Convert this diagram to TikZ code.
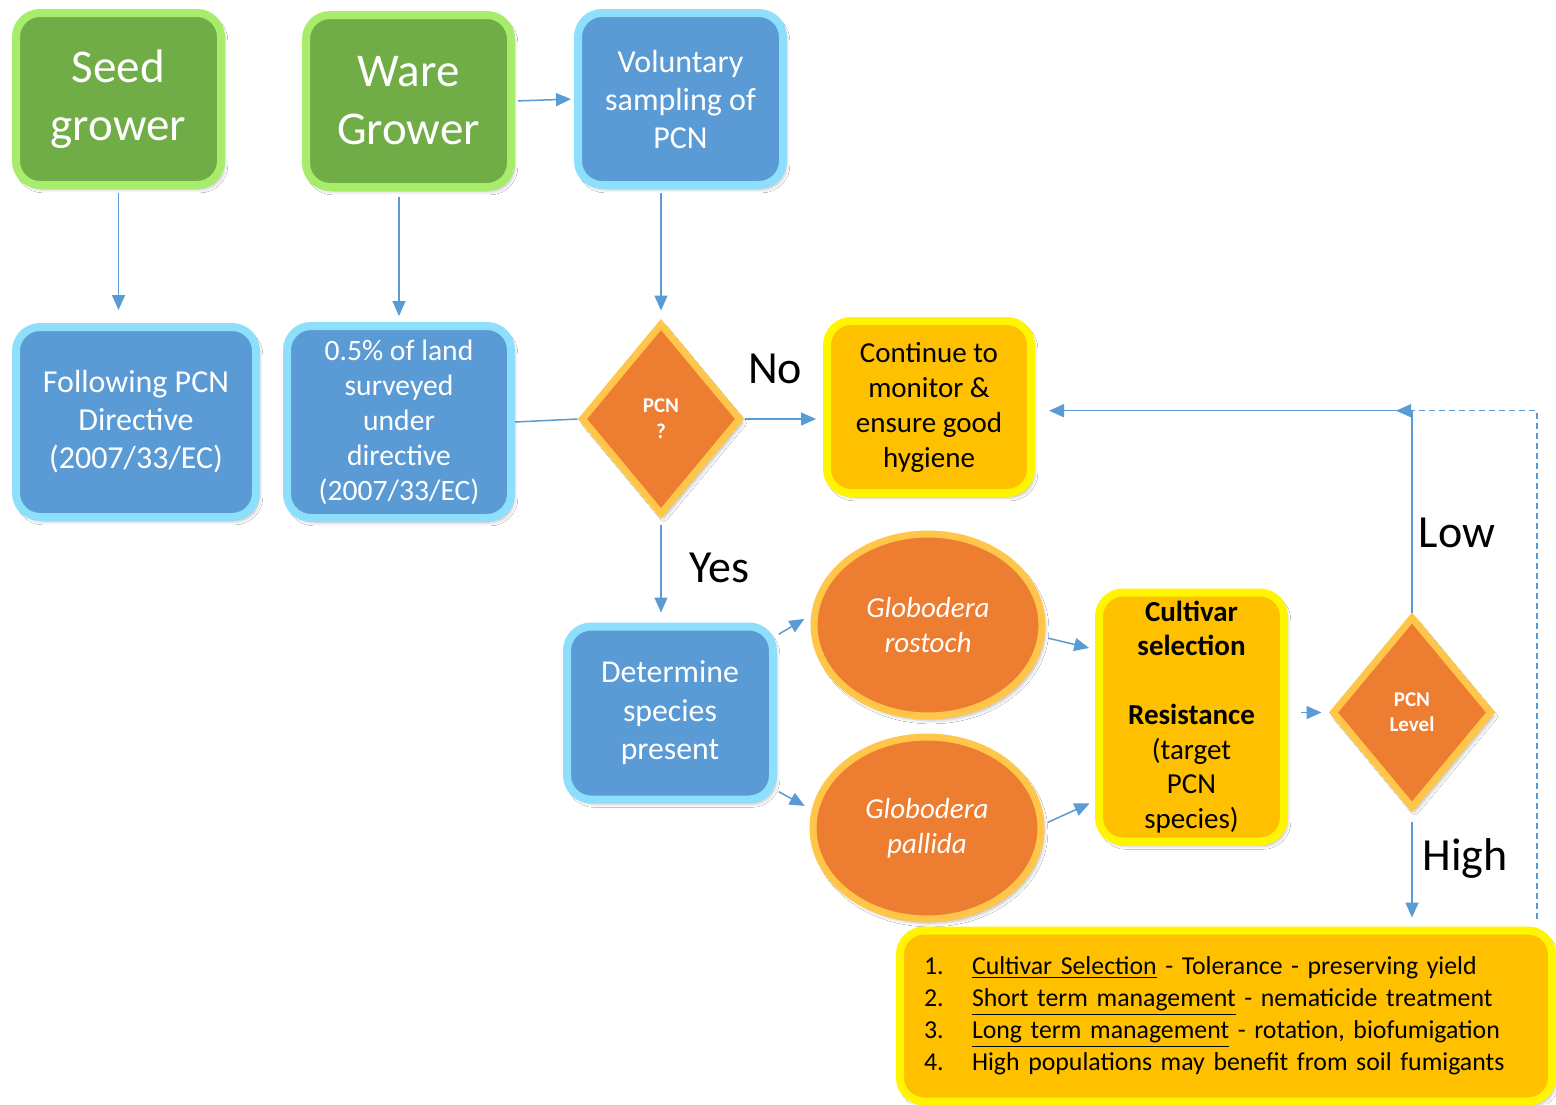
\documentclass[tikz,border=0pt]{standalone}
\usepackage{fontspec}
\setmainfont{Carlito}
\usetikzlibrary{shapes.geometric,arrows.meta,shadows.blur}
\definecolor{grfill}{HTML}{70AD47}
\definecolor{grline}{HTML}{A8EC6C}
\definecolor{blfill}{HTML}{5B9BD5}
\definecolor{blline}{HTML}{8EDFFC}
\definecolor{orfill}{HTML}{ED7D31}
\definecolor{orline}{HTML}{FFC64A}
\definecolor{yefill}{HTML}{FFC000}
\definecolor{yeline}{HTML}{FFF500}
\definecolor{arrcol}{HTML}{5B9BD5}
\begin{document}
\begin{tikzpicture}[x=0.5pt,y=-0.5pt,
 shad/.style={blur shadow={shadow xshift=1.5pt,shadow yshift=-2pt,shadow blur steps=6,shadow opacity=30}},
 box/.style={rectangle,rounded corners=12pt,line width=4pt,inner sep=2pt,align=center,shad},
 greenbox/.style={box,fill=grfill,draw=grline,text=white},
 bluebox/.style={box,fill=blfill,draw=blline,text=white},
 yellowbox/.style={box,fill=yefill,draw=yeline,text=black},
 orangeell/.style={ellipse,fill=orfill,draw=orline,line width=3.5pt,text=white,align=center,inner sep=0pt,shad},
 orangedia/.style={diamond,fill=orfill,draw=orline,line width=3.5pt,text=white,align=center,inner sep=0pt,shad},
 arr/.style={draw=arrcol,line width=0.75pt,-{Triangle[length=7.5pt,width=6.5pt]}},
 link/.style={draw=arrcol,line width=0.75pt},
 lbl/.style={font=\fontsize{23}{28}\selectfont,text=black,inner sep=0pt,anchor=base},
]
\useasboundingbox[fill=white] (0,0) rectangle (1556,1104);

% top row
\node[greenbox,minimum width=102.5pt,minimum height=86pt,font=\fontsize{23.5}{29}\selectfont] (seed) at (118.5,99) {Seed\\grower};
\node[greenbox,minimum width=102.5pt,minimum height=86pt,font=\fontsize{23.5}{29}\selectfont] (ware) at (408.5,101) {Ware\\Grower};
\node[bluebox,minimum width=102.5pt,minimum height=86pt,font=\fontsize{16}{19}\selectfont] (vol) at (680.5,99) {Voluntary\\sampling of\\PCN};

% second row
\node[bluebox,minimum width=120pt,minimum height=95pt,font=\fontsize{16}{19}\selectfont] (follow) at (136,422) {Following PCN\\Directive\\(2007/33/EC)};
\node[bluebox,minimum width=112pt,minimum height=96pt,font=\fontsize{14.8}{17.5}\selectfont] (land) at (399,422) {0.5\% of land\\surveyed\\under\\directive\\(2007/33/EC)};
\node[orangedia,minimum width=80pt,minimum height=96pt,font=\bfseries\fontsize{10.5}{13}\selectfont] (pcnq) at (661,419) {PCN\\?};
\node[yellowbox,minimum width=102pt,minimum height=86pt,font=\fontsize{14.5}{17.5}\selectfont] (cont) at (929,407) {Continue to\\monitor \&\\ensure good\\hygiene};

% lower part
\node[bluebox,minimum width=103pt,minimum height=86.5pt,font=\fontsize{15.9}{19.25}\selectfont] (det) at (670,713) {Determine\\species\\present};
\node[orangeell,minimum width=114pt,minimum height=91pt,font=\itshape\fontsize{14.5}{17.5}\selectfont] (rost) at (928,625) {Globodera\\rostoch};
\node[orangeell,minimum width=114pt,minimum height=91pt,font=\itshape\fontsize{14.5}{17.5}\selectfont] (pall) at (927,828) {Globodera\\pallida};
\node[yellowbox,minimum width=92.5pt,minimum height=124.5pt,font=\fontsize{14.5}{17.25}\selectfont] (cult) at (1191.5,717) {\textbf{Cultivar}\\\textbf{selection}\\\mbox{}\\\textbf{Resistance}\\(target\\PCN\\species)};
\node[orangedia,minimum width=80pt,minimum height=96pt,font=\bfseries\fontsize{10.5}{12.5}\selectfont] (lvl) at (1412,712.5) {PCN\\Level};

\node[yellowbox,minimum width=326pt,minimum height=85.5pt,align=left,text width=302pt,font=\fontsize{12.9}{16}\selectfont] (bot) at (1226,1016) {%
\makebox[24pt][l]{1.}\underline{Cultivar Selection} - Tolerance - preserving yield\\
\makebox[24pt][l]{2.}\underline{Short term management} - nematicide treatment\\
\makebox[24pt][l]{3.}\underline{Long term management} - rotation, biofumigation\\
\makebox[24pt][l]{4.}High populations may benefit from soil fumigants};

% labels
\node[lbl] (no) at (775,383) {No};
\node[lbl] (yes) at (719,582) {Yes};
\node[lbl] (low) at (1457,547) {Low};
\node[lbl] (high) at (1465,870) {High};

% connectors
\draw[arr,shorten <=2pt,shorten >=6.5pt] (seed.south) -- (seed.south |- follow.north);
\draw[arr,shorten <=3pt,shorten >=3pt] (land.north |- ware.south) -- (land.north);
\draw[arr,shorten <=1.5pt,shorten >=1.5pt] (ware.east) -- (vol.west);
\draw[arr,shorten <=2pt,shorten >=4.5pt] (pcnq.north |- vol.south) -- (pcnq.north);
\draw[link] (land.east) -- (pcnq.west);
\draw[arr,shorten >=3.5pt] (pcnq.east) -- (pcnq.east -| cont.west);
\draw[arr,shorten <=3pt,shorten >=5pt] (pcnq.south) -- (pcnq.south |- det.north);
\draw[arr,shorten <=1pt,shorten >=4pt] (det.36) -- (rost.175);
\draw[arr,shorten <=1pt,shorten >=4pt] (det.-36) -- (pall.171);
\draw[arr,shorten <=2pt,shorten >=3pt] (rost.-6) -- (cult.145);
\draw[arr,shorten <=2pt,shorten >=3pt] (pall.2) -- (cult.221);
\draw[arr,shorten <=6.5pt,shorten >=3.5pt] (lvl.west -| cult.east) -- (lvl.west);
\coordinate (j) at (lvl.north |- cont.-2);
\draw[arr,shorten >=7pt] (lvl.north) |- (cont.-2);
\draw[arr,dash pattern=on 3pt off 2pt,shorten <=4pt] ([xshift=155.5pt]bot.north) |- ([xshift=-8pt]j);
\draw[arr,shorten <=5pt,shorten >=4.5pt] (lvl.south) -- (lvl.south |- bot.north);
\end{tikzpicture}
\end{document}
